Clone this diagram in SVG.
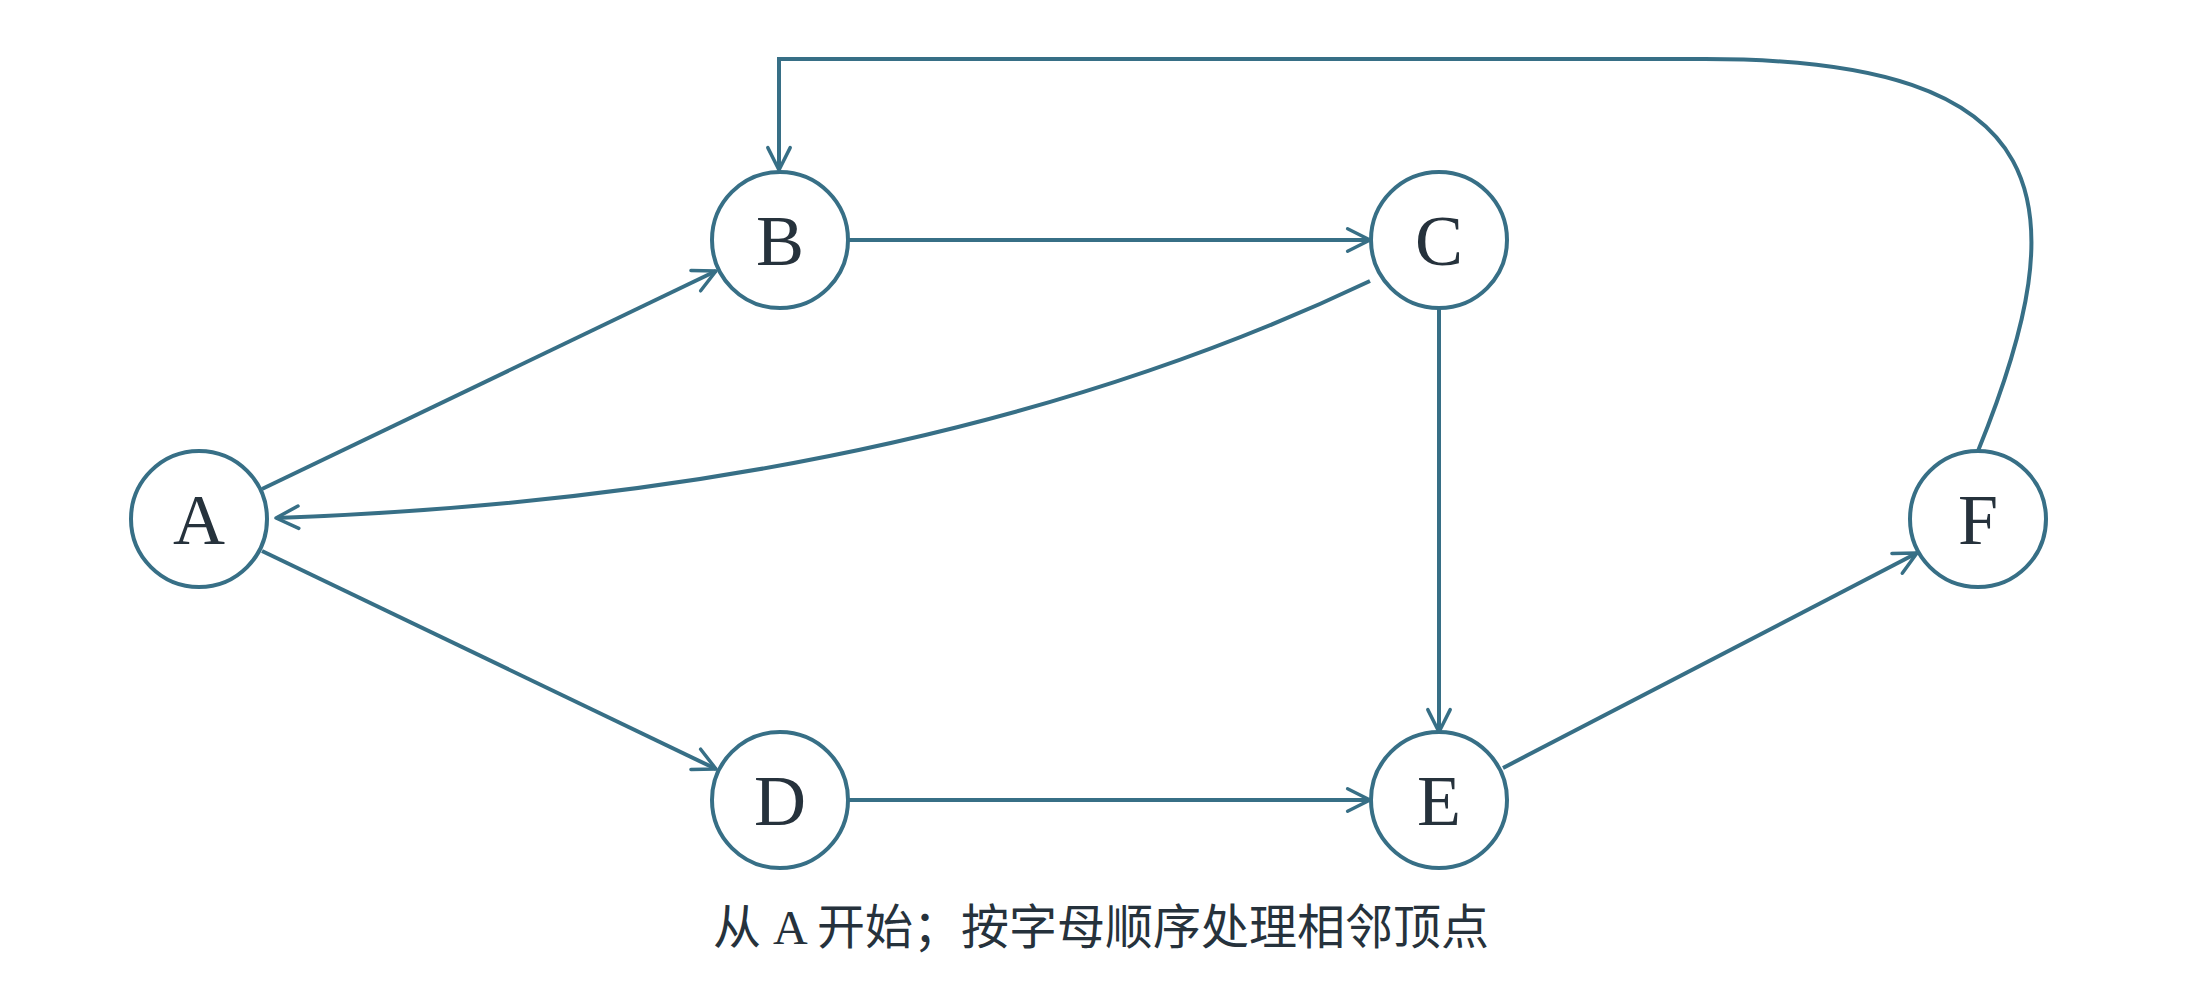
<svg xmlns="http://www.w3.org/2000/svg" width="2200" height="1000" viewBox="0 0 2200 1000">
<defs>
<style>
.n{fill:#fff;stroke:#376f86;stroke-width:4}
.t{font-family:"Liberation Serif",serif;font-size:72px;fill:#26323c;text-anchor:middle}
.e{fill:none;stroke:#376f86;stroke-width:4;marker-end:url(#ah)}
.c{font-family:"Liberation Serif","Noto Sans CJK SC",serif;font-size:48px;fill:#26323c;text-anchor:middle}
</style>
<marker id="ah" viewBox="0 0 20 20" refX="18" refY="10" markerWidth="7" markerHeight="7" markerUnits="strokeWidth" orient="auto"><path d="M2,2 L18,10 L2,18" fill="none" stroke="#376f86" stroke-width="2.5" stroke-linecap="round" stroke-linejoin="round"/></marker>
</defs>
<rect width="2200" height="1000" fill="#fff"/>
<g id="edges">
<path class="e" d="M262,489 L716,271"/>
<path class="e" d="M262,551 L716,769"/>
<path class="e" d="M848,240 L1370,240"/>
<path class="e" d="M848,800 L1370,800"/>
<path class="e" d="M1439,308 L1439,732"/>
<path class="e" d="M1503,768 L1917,553"/>
<path class="e" d="M1370,281 Q920,495 276,518"/>
<path class="e" d="M1978,451 C2080,200 2060,59 1705,59 L779,59 L779,170"/>
</g>
<g id="A"><circle class="n" cx="199" cy="519" r="68"/><text class="t" x="199" y="544">A</text></g>
<g id="B"><circle class="n" cx="780" cy="240" r="68"/><text class="t" x="780" y="265">B</text></g>
<g id="C"><circle class="n" cx="1439" cy="240" r="68"/><text class="t" x="1439" y="265">C</text></g>
<g id="D"><circle class="n" cx="780" cy="800" r="68"/><text class="t" x="780" y="825">D</text></g>
<g id="E"><circle class="n" cx="1439" cy="800" r="68"/><text class="t" x="1439" y="825">E</text></g>
<g id="F"><circle class="n" cx="1978" cy="519" r="68"/><text class="t" x="1978" y="544">F</text></g>
<text class="c" x="1101" y="944">从 A 开始；按字母顺序处理相邻顶点</text>
</svg>
